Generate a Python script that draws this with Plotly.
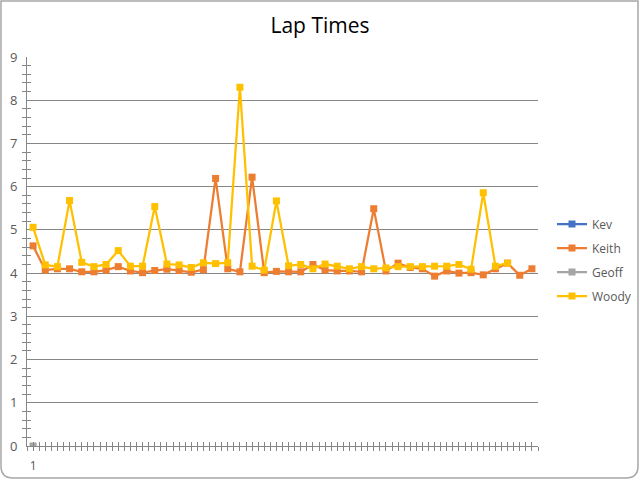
import plotly.graph_objects as go

laps = list(range(1, 43))
kev = [None] * 42
geoff = [0] + [None] * 41
keith = [4.63, 4.07, 4.10, 4.10, 4.03, 4.03, 4.07, 4.15, 4.05, 4.01,
         4.06, 4.09, 4.06, 4.02, 4.08, 6.19, 4.10, 4.03, 6.22, 4.01,
         4.04, 4.03, 4.03, 4.20, 4.07, 4.05, 4.05, 4.03, 5.49, 4.05,
         4.23, 4.13, 4.10, 3.93, 4.05, 4.00, 4.01, 3.96, 4.10, 4.23,
         3.95, 4.10]
woody = [5.06, 4.19, 4.15, 5.68, 4.25, 4.15, 4.20, 4.52, 4.16, 4.16,
         5.54, 4.21, 4.19, 4.13, 4.24, 4.22, 4.24, 8.30, 4.16, 4.07,
         5.67, 4.17, 4.20, 4.10, 4.21, 4.16, 4.10, 4.15, 4.10, 4.12,
         4.15, 4.15, 4.15, 4.16, 4.16, 4.20, 4.09, 5.86, 4.16, 4.23,
         None, None]

series = [("Kev", kev, "#4472C4"), ("Keith", keith, "#ED7D31"),
          ("Geoff", geoff, "#A5A5A5"), ("Woody", woody, "#FFC000")]

W, H = 640, 480
ML, MR, MT, MB = 27, 102, 57, 34
PW, PH = W - ML - MR, H - MT - MB

fig = go.Figure()
for name, vals, col in series:
    fig.add_trace(go.Scatter(
        x=laps, y=vals, name=name, mode="lines+markers",
        line=dict(color=col, width=2.25),
        marker=dict(symbol="square", size=7, color=col),
        legendgroup=name, connectgaps=False))

fig.add_trace(go.Scatter(x=[laps[0]], y=[None], xaxis="x2", showlegend=False, hoverinfo="skip"))
fig.add_trace(go.Scatter(x=[laps[0]], y=[None], yaxis="y2", showlegend=False, hoverinfo="skip"))

font = "'Open Sans', sans-serif"
tick_col = "#595959"
axcol = "#868686"
axis_common = dict(range=[0.5, 42.5], showgrid=False, zeroline=False,
                   showline=True, linecolor=axcol, linewidth=1,
                   tickmode="array", tickvals=[1], ticktext=["1"],
                   ticklen=0, automargin=False,
                   minor=dict(tickmode="linear", tick0=0.5, dtick=0.5,
                              ticklen=4, tickcolor=axcol, tickwidth=1))

xa = dict(axis_common)
xa["minor"] = dict(axis_common["minor"], ticks="outside")
xa.update(tickfont=dict(family=font, size=12, color=tick_col), ticks="outside",
          ticklabelstandoff=9)
xb = dict(axis_common)
xb["minor"] = dict(axis_common["minor"], ticks="inside")
xb.update(overlaying="x", side="bottom", anchor="y", showticklabels=False, ticks="inside")

fig.update_layout(
    width=W, height=H,
    margin=dict(l=ML, r=MR, t=MT, b=MB, autoexpand=False),
    paper_bgcolor="white", plot_bgcolor="white",
    title=dict(text="Lap Times", x=0.5, xref="container", xanchor="center",
               y=1 - 26 / H, yanchor="middle",
               font=dict(family=font, size=21, color="#000000")),
    xaxis=xa, xaxis2=xb,
    yaxis=dict(range=[0, 9], dtick=1, showgrid=True, gridcolor=axcol,
               gridwidth=1, zeroline=False, showline=True,
               linecolor=axcol, linewidth=1, automargin=False,
               ticks="", ticklen=0, ticklabelstandoff=6,
               tickfont=dict(family=font, size=13, color=tick_col),
               minor=dict(dtick=0.2, ticks="outside", ticklen=4,
                          tickcolor=axcol, showgrid=False)),
    yaxis2=dict(range=[0, 9], overlaying="y", anchor="x", side="left",
                showgrid=False, showticklabels=False, showline=False,
                zeroline=False, automargin=False,
                minor=dict(dtick=0.2, ticks="inside", ticklen=4,
                           tickcolor=axcol, showgrid=False)),
    legend=dict(x=1 + 14 / PW, xanchor="left", y=(446 - 260) / PH,
                yanchor="middle", traceorder="grouped", tracegroupgap=5,
                font=dict(family=font, size=12, color=tick_col),
                bgcolor="rgba(0,0,0,0)"),
    showlegend=True,
)

# rounded chart border around the whole figure
x0, x1 = -(ML - 1) / PW, 1 + (MR - 2) / PW
y0, y1 = -(MB - 2) / PH, 1 + (MT - 1) / PH
rx, ry = 12 / PW, 12 / PH
path = (f"M {x0+rx},{y0} L {x1-rx},{y0} Q {x1},{y0} {x1},{y0+ry} "
        f"L {x1},{y1} L {x0},{y1} L {x0},{y0+ry} Q {x0},{y0} {x0+rx},{y0} Z")
fig.add_shape(type="path", path=path, xref="paper", yref="paper",
              line=dict(color="#A6A6A6", width=1.5), layer="below")

fig.write_html("out.html", config={"displayModeBar": False},
               post_script="document.body.style.margin='0';")
